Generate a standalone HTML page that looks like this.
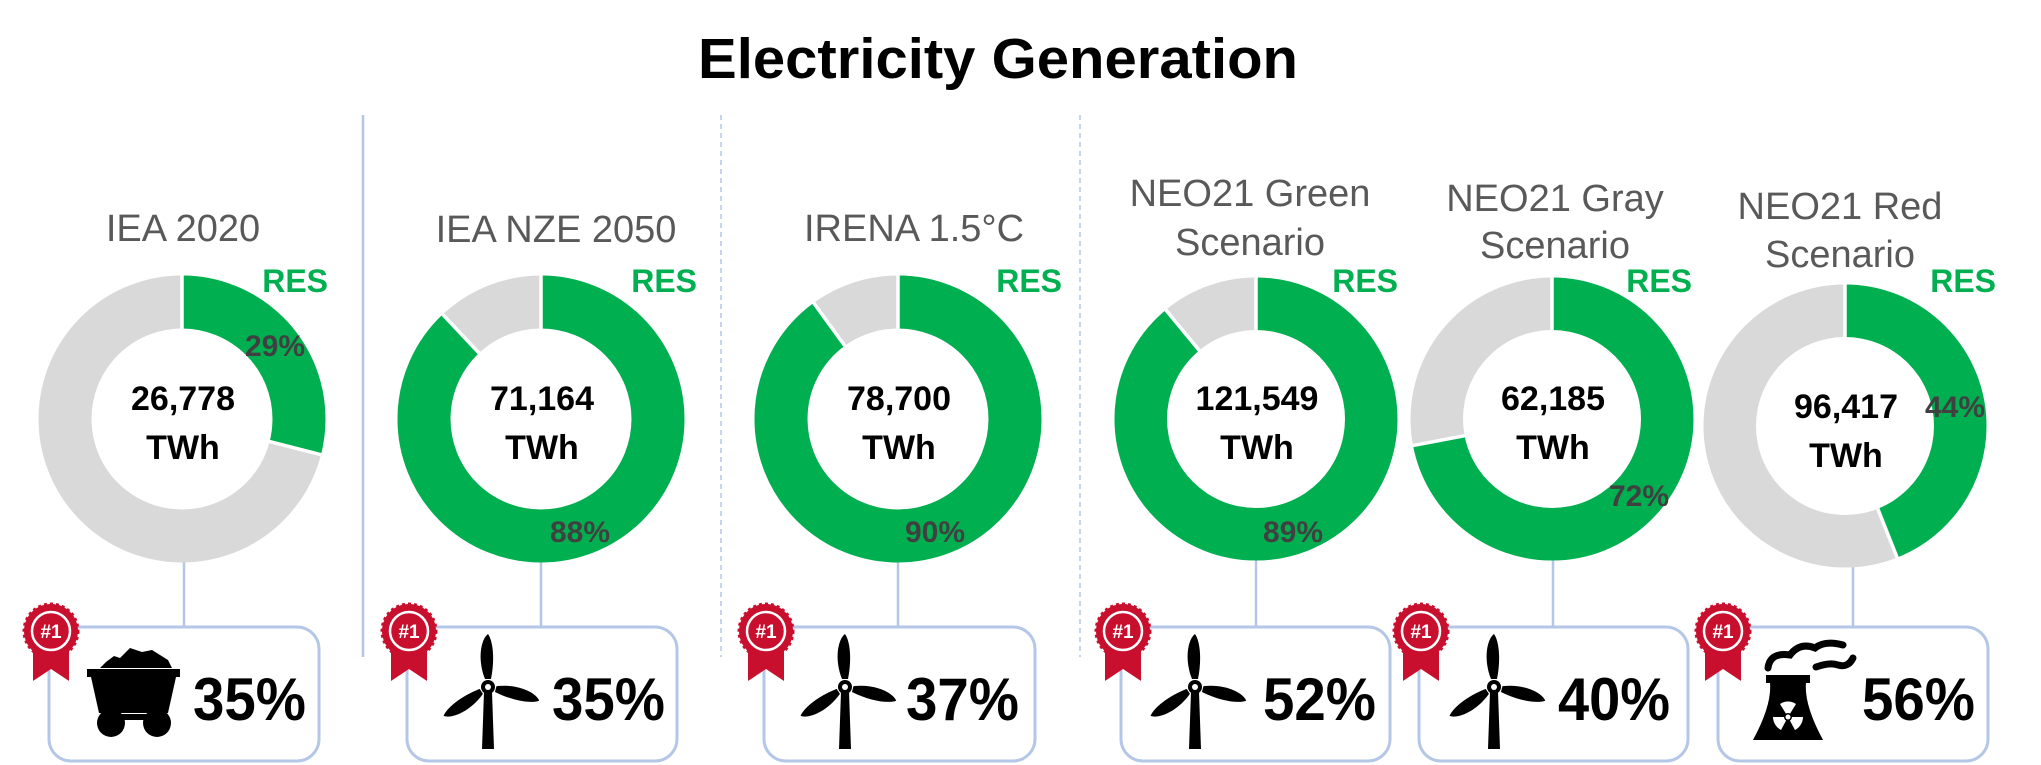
<!DOCTYPE html>
<html><head><meta charset="utf-8"><style>
html,body{margin:0;padding:0;background:#fff;}
svg{display:block;}
text{font-family:"Liberation Sans",sans-serif;}
</style></head><body>
<svg width="2041" height="765" viewBox="0 0 2041 765" xmlns="http://www.w3.org/2000/svg">
<defs>
  <g id="badge">
    <circle r="27" fill="#C8102E" stroke="#C8102E" stroke-width="3" stroke-dasharray="3 3"/>
    <polygon points="-18,8 -18,50 0,38 18,50 18,8" fill="#C8102E"/>
    <circle r="26" fill="#C8102E"/>
    <circle r="19" fill="none" stroke="#fff" stroke-width="2.5"/>
    <text x="0" y="7" text-anchor="middle" font-size="19" font-weight="bold" fill="#fff">#1</text>
  </g>
  <g id="mill">
    <polygon points="-4,5 4,5 6,62 -6,62" fill="#000"/>
    <path d="M-3,-8 C-11,-28 -7,-48 0,-53 C5,-46 7,-28 3,-8 Z" fill="#000"/>
    <path d="M-3,-8 C-11,-28 -7,-48 0,-53 C5,-46 7,-28 3,-8 Z" fill="#000" transform="rotate(105)"/>
    <path d="M-3,-8 C-11,-28 -7,-48 0,-53 C5,-46 7,-28 3,-8 Z" fill="#000" transform="rotate(237)"/>
    <circle r="7" fill="#000"/>
    <circle r="3" fill="#fff"/>
  </g>
</defs>

<text x="998" y="78" text-anchor="middle" font-size="57" font-weight="bold" fill="#000" textLength="600" lengthAdjust="spacingAndGlyphs">Electricity Generation</text>

<line x1="363" y1="115" x2="363" y2="657" stroke="#B4C7E7" stroke-width="2.5"/>
<line x1="721" y1="115" x2="721" y2="657" stroke="#B4C7E7" stroke-width="1.5" stroke-dasharray="5 4"/>
<line x1="1080" y1="115" x2="1080" y2="657" stroke="#B4C7E7" stroke-width="1.5" stroke-dasharray="5 4"/>

<g stroke="#B4C7E7" stroke-width="2.5">
<line x1="184" y1="562" x2="184" y2="627"/>
<line x1="541" y1="562" x2="541" y2="627"/>
<line x1="898" y1="562" x2="898" y2="627"/>
<line x1="1256" y1="559" x2="1256" y2="627"/>
<line x1="1553" y1="559" x2="1553" y2="627"/>
<line x1="1853" y1="566" x2="1853" y2="627"/>
</g>

<g fill="none" stroke="#B4C7E7" stroke-width="3">
<rect x="49" y="627" width="270" height="134" rx="22"/>
<rect x="407" y="627" width="270" height="134" rx="22"/>
<rect x="764" y="627" width="271" height="134" rx="22"/>
<rect x="1121" y="627" width="269" height="134" rx="22"/>
<rect x="1419" y="627" width="269" height="134" rx="22"/>
<rect x="1718" y="627" width="270" height="134" rx="22"/>
</g>

<g font-size="38" fill="#595959" text-anchor="middle">
<text x="183" y="241">IEA 2020</text>
<text x="556" y="242">IEA NZE 2050</text>
<text x="914" y="241">IRENA 1.5°C</text>
<text x="1250" y="206">NEO21 Green</text>
<text x="1250" y="255">Scenario</text>
<text x="1555" y="211">NEO21 Gray</text>
<text x="1555" y="258">Scenario</text>
<text x="1840" y="219">NEO21 Red</text>
<text x="1840" y="267">Scenario</text>
</g>
<g font-size="32" font-weight="bold" fill="#00B050" text-anchor="end">
<text x="328" y="292">RES</text>
<text x="697" y="292">RES</text>
<text x="1062" y="292">RES</text>
<text x="1398" y="292">RES</text>
<text x="1692" y="292">RES</text>
<text x="1996" y="292">RES</text>
</g>

<g fill="none" stroke-width="53">
<circle cx="182" cy="419" r="117" stroke="#D9D9D9"/>
<circle cx="182" cy="419" r="117" stroke="#00B050" stroke-dasharray="213.2 1000" transform="rotate(-90 182 419)"/>
<circle cx="541" cy="419" r="117" stroke="#D9D9D9"/>
<circle cx="541" cy="419" r="117" stroke="#00B050" stroke-dasharray="646.9 1000" transform="rotate(-90 541 419)"/>
<circle cx="898" cy="419" r="117" stroke="#D9D9D9"/>
<circle cx="898" cy="419" r="117" stroke="#00B050" stroke-dasharray="661.6 1000" transform="rotate(-90 898 419)"/>
<circle cx="1256" cy="419" r="115" stroke="#D9D9D9"/>
<circle cx="1256" cy="419" r="115" stroke="#00B050" stroke-dasharray="643.1 1000" transform="rotate(-90 1256 419)"/>
<circle cx="1552" cy="419" r="115" stroke="#D9D9D9"/>
<circle cx="1552" cy="419" r="115" stroke="#00B050" stroke-dasharray="520.2 1000" transform="rotate(-90 1552 419)"/>
<circle cx="1845" cy="426" r="115" stroke="#D9D9D9"/>
<circle cx="1845" cy="426" r="115" stroke="#00B050" stroke-dasharray="317.9 1000" transform="rotate(-90 1845 426)"/>
</g>
<g stroke="#fff" stroke-width="3.5">
<line x1="182" y1="419" x2="182" y2="272"/><line x1="182" y1="419" x2="322.4" y2="455.1"/>
<line x1="541" y1="419" x2="541" y2="272"/><line x1="541" y1="419" x2="441.7" y2="313.3"/>
<line x1="898" y1="419" x2="898" y2="272"/><line x1="898" y1="419" x2="812.8" y2="301.7"/>
<line x1="1256" y1="419" x2="1256" y2="272"/><line x1="1256" y1="419" x2="1163.6" y2="307.3"/>
<line x1="1552" y1="419" x2="1552" y2="272"/><line x1="1552" y1="419" x2="1409.6" y2="446.2"/>
<line x1="1845" y1="426" x2="1845" y2="279"/><line x1="1845" y1="426" x2="1898.4" y2="560.8"/>
</g>
<g fill="#fff">
<circle cx="182" cy="419" r="90"/>
<circle cx="541" cy="419" r="90"/>
<circle cx="898" cy="419" r="90"/>
<circle cx="1256" cy="419" r="89"/>
<circle cx="1552" cy="419" r="89"/>
<circle cx="1845" cy="426" r="89"/>
</g>

<g font-size="34" font-weight="bold" fill="#000" text-anchor="middle">
<text x="183" y="410">26,778</text><text x="183" y="459">TWh</text>
<text x="542" y="410">71,164</text><text x="542" y="459">TWh</text>
<text x="899" y="410">78,700</text><text x="899" y="459">TWh</text>
<text x="1257" y="410">121,549</text><text x="1257" y="459">TWh</text>
<text x="1553" y="410">62,185</text><text x="1553" y="459">TWh</text>
<text x="1846" y="418">96,417</text><text x="1846" y="467">TWh</text>
</g>

<g font-size="30" font-weight="bold" fill="#404040" text-anchor="middle">
<text x="275" y="356">29%</text>
<text x="580" y="542">88%</text>
<text x="935" y="542">90%</text>
<text x="1293" y="542">89%</text>
<text x="1639" y="506">72%</text>
<text x="1955" y="417">44%</text>
</g>

<g font-size="60" font-weight="bold" fill="#000">
<text x="193" y="720" textLength="113" lengthAdjust="spacingAndGlyphs">35%</text>
<text x="552" y="720" textLength="113" lengthAdjust="spacingAndGlyphs">35%</text>
<text x="906" y="720" textLength="113" lengthAdjust="spacingAndGlyphs">37%</text>
<text x="1263" y="720" textLength="113" lengthAdjust="spacingAndGlyphs">52%</text>
<text x="1558" y="720" textLength="112" lengthAdjust="spacingAndGlyphs">40%</text>
<text x="1862" y="720" textLength="113" lengthAdjust="spacingAndGlyphs">56%</text>
</g>

<g fill="#000">
  <path d="M106,662 L114,656 L120,658 L130,648 L142,652 L152,650 L168,660 L172,668 L100,668 Z"/>
  <rect x="87" y="669" width="93" height="8"/>
  <polygon points="91,677 176,677 168,713 99,713"/>
  <circle cx="111" cy="723" r="14"/>
  <circle cx="157" cy="723" r="14"/>
  <rect x="115" y="714" width="38" height="6"/>
</g>
<use href="#mill" x="488" y="687"/>
<use href="#mill" x="845" y="687"/>
<use href="#mill" x="1195" y="687"/>
<use href="#mill" x="1494" y="687"/>
<g>
  <path d="M1768,668 Q1770,652 1790,655 Q1800,642 1815,648 Q1825,640 1843,645" fill="none" stroke="#000" stroke-width="7" stroke-linecap="round"/>
  <path d="M1816,667 Q1830,662 1838,665 Q1848,668 1853,658" fill="none" stroke="#000" stroke-width="7" stroke-linecap="round"/>
  <path d="M1766,675 L1810,675 L1810,683 L1806,683 Q1804,705 1823,740 L1753,740 Q1772,705 1770,683 L1766,683 Z" fill="#000"/>
  <path d="M1788,717 L1780,704 A14,14 0 0 1 1796,704 Z" fill="#fff"/>
  <path d="M1788,717 L1803,717 A15,15 0 0 1 1795,730 Z" fill="#fff"/>
  <path d="M1788,717 L1781,730 A15,15 0 0 1 1773,717 Z" fill="#fff"/>
  <circle cx="1788" cy="717" r="4" fill="#000"/>
  <circle cx="1788" cy="717" r="2.5" fill="#fff"/>
</g>

<use href="#badge" x="51" y="631"/>
<use href="#badge" x="409" y="631"/>
<use href="#badge" x="766" y="631"/>
<use href="#badge" x="1123" y="631"/>
<use href="#badge" x="1421" y="631"/>
<use href="#badge" x="1723" y="631"/>
</svg>
</body></html>
